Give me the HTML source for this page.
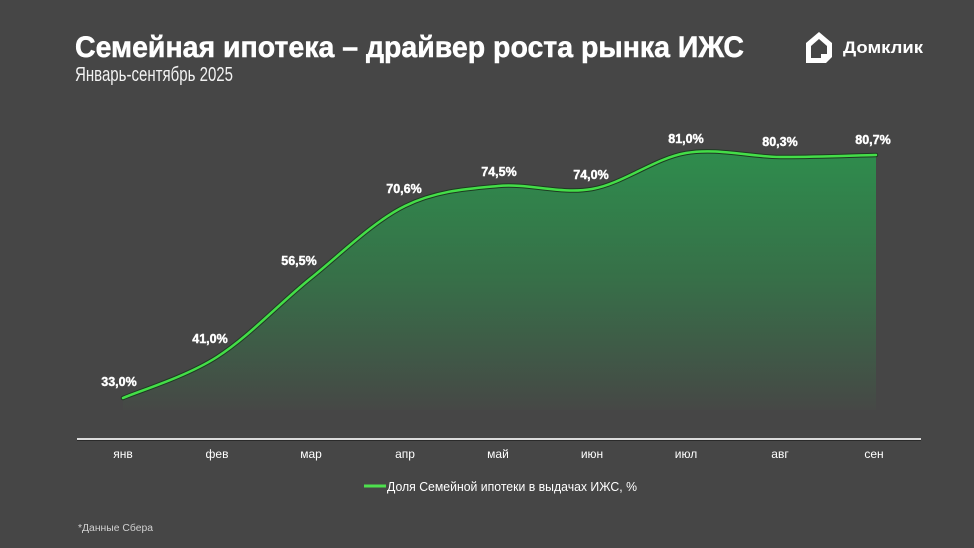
<!DOCTYPE html>
<html><head><meta charset="utf-8"><style>
html,body{margin:0;padding:0;background:#464646;}
svg{display:block;}
text{font-family:"Liberation Sans",sans-serif;}
</style></head><body>
<svg width="974" height="548" viewBox="0 0 974 548" xmlns="http://www.w3.org/2000/svg">
<defs>
<linearGradient id="g" x1="0" y1="150" x2="0" y2="410" gradientUnits="userSpaceOnUse">
<stop offset="0" stop-color="#2e8d4d"/>
<stop offset="0.5" stop-color="#376f48"/>
<stop offset="1" stop-color="#464846"/>
</linearGradient>
</defs>
<rect width="974" height="548" fill="#464646"/>
<text x="75" y="57" font-size="30" font-weight="bold" fill="#fff" stroke="#fff" stroke-width="0.5" textLength="669" lengthAdjust="spacingAndGlyphs">Семейная ипотека – драйвер роста рынка ИЖС</text>
<text x="75" y="81" font-size="20" fill="#f2f2f2" textLength="158" lengthAdjust="spacingAndGlyphs">Январь-сентябрь 2025</text>
<!-- logo -->
<path d="M806,43 L819,32 L832,43 L832,57 L826,63 L806,63 Z" fill="#fff"/>
<path d="M811,46 L819,39 L827,46 L827,54 L821,54 L821,58 L811,58 Z" fill="#464646"/>
<path d="M821,54 L827,54 L821,60 Z" fill="#fff"/>
<text x="843" y="53" font-size="17" font-weight="bold" fill="#fff" textLength="80" lengthAdjust="spacingAndGlyphs">Домклик</text>
<!-- fill -->
<path d="M123,398 C138.7,391.2 185.7,377 217,357 C248.3,337 279.7,303.2 311,278 C342.3,252.8 373.8,221.3 405,206 C436.2,190.7 466.8,188.8 498,186 C529.2,183.2 560.7,194.5 592,189 C623.3,183.5 654.7,158.3 686,153 C717.3,147.7 748.7,156.7 780,157 C811.3,157.3 858.3,155.3 876,155 L876,410 L123,410 Z" fill="url(#g)"/>
<path d="M123,398 C138.7,391.2 185.7,377 217,357 C248.3,337 279.7,303.2 311,278 C342.3,252.8 373.8,221.3 405,206 C436.2,190.7 466.8,188.8 498,186 C529.2,183.2 560.7,194.5 592,189 C623.3,183.5 654.7,158.3 686,153 C717.3,147.7 748.7,156.7 780,157 C811.3,157.3 858.3,155.3 876,155" fill="none" stroke="#1e3a22" stroke-width="4.5" stroke-linecap="round"/>
<path d="M123,398 C138.7,391.2 185.7,377 217,357 C248.3,337 279.7,303.2 311,278 C342.3,252.8 373.8,221.3 405,206 C436.2,190.7 466.8,188.8 498,186 C529.2,183.2 560.7,194.5 592,189 C623.3,183.5 654.7,158.3 686,153 C717.3,147.7 748.7,156.7 780,157 C811.3,157.3 858.3,155.3 876,155" fill="none" stroke="#44de48" stroke-width="2.5" stroke-linecap="round"/>
<!-- labels -->
<g font-size="12.5" font-weight="bold" fill="#fff" stroke="#fff" stroke-width="0.4" text-anchor="middle">
<text x="119" y="386">33,0%</text>
<text x="210" y="343">41,0%</text>
<text x="299" y="265">56,5%</text>
<text x="404" y="193">70,6%</text>
<text x="499" y="176">74,5%</text>
<text x="591" y="179">74,0%</text>
<text x="686" y="143">81,0%</text>
<text x="780" y="146">80,3%</text>
<text x="873" y="144">80,7%</text>
</g>
<!-- axis -->
<line x1="77" y1="439" x2="921" y2="439" stroke="#dcdcdc" stroke-width="2"/>
<line x1="77" y1="440.5" x2="921" y2="440.5" stroke="#2a2a2a" stroke-width="1"/>
<g font-size="12" fill="#fff" text-anchor="middle">
<text x="123" y="458">янв</text>
<text x="217" y="458">фев</text>
<text x="311" y="458">мар</text>
<text x="405" y="458">апр</text>
<text x="498" y="458">май</text>
<text x="592" y="458">июн</text>
<text x="686" y="458">июл</text>
<text x="780" y="458">авг</text>
<text x="874" y="458">сен</text>
</g>
<!-- legend -->
<line x1="364" y1="486" x2="386" y2="486" stroke="#4ee04e" stroke-width="3"/>
<text x="387" y="491" font-size="13" fill="#fff" textLength="250" lengthAdjust="spacingAndGlyphs">Доля Семейной ипотеки в выдачах ИЖС, %</text>
<text x="78" y="531" font-size="10" fill="#d0d0d0" textLength="75" lengthAdjust="spacingAndGlyphs">*Данные Сбера</text>
</svg>
</body></html>
